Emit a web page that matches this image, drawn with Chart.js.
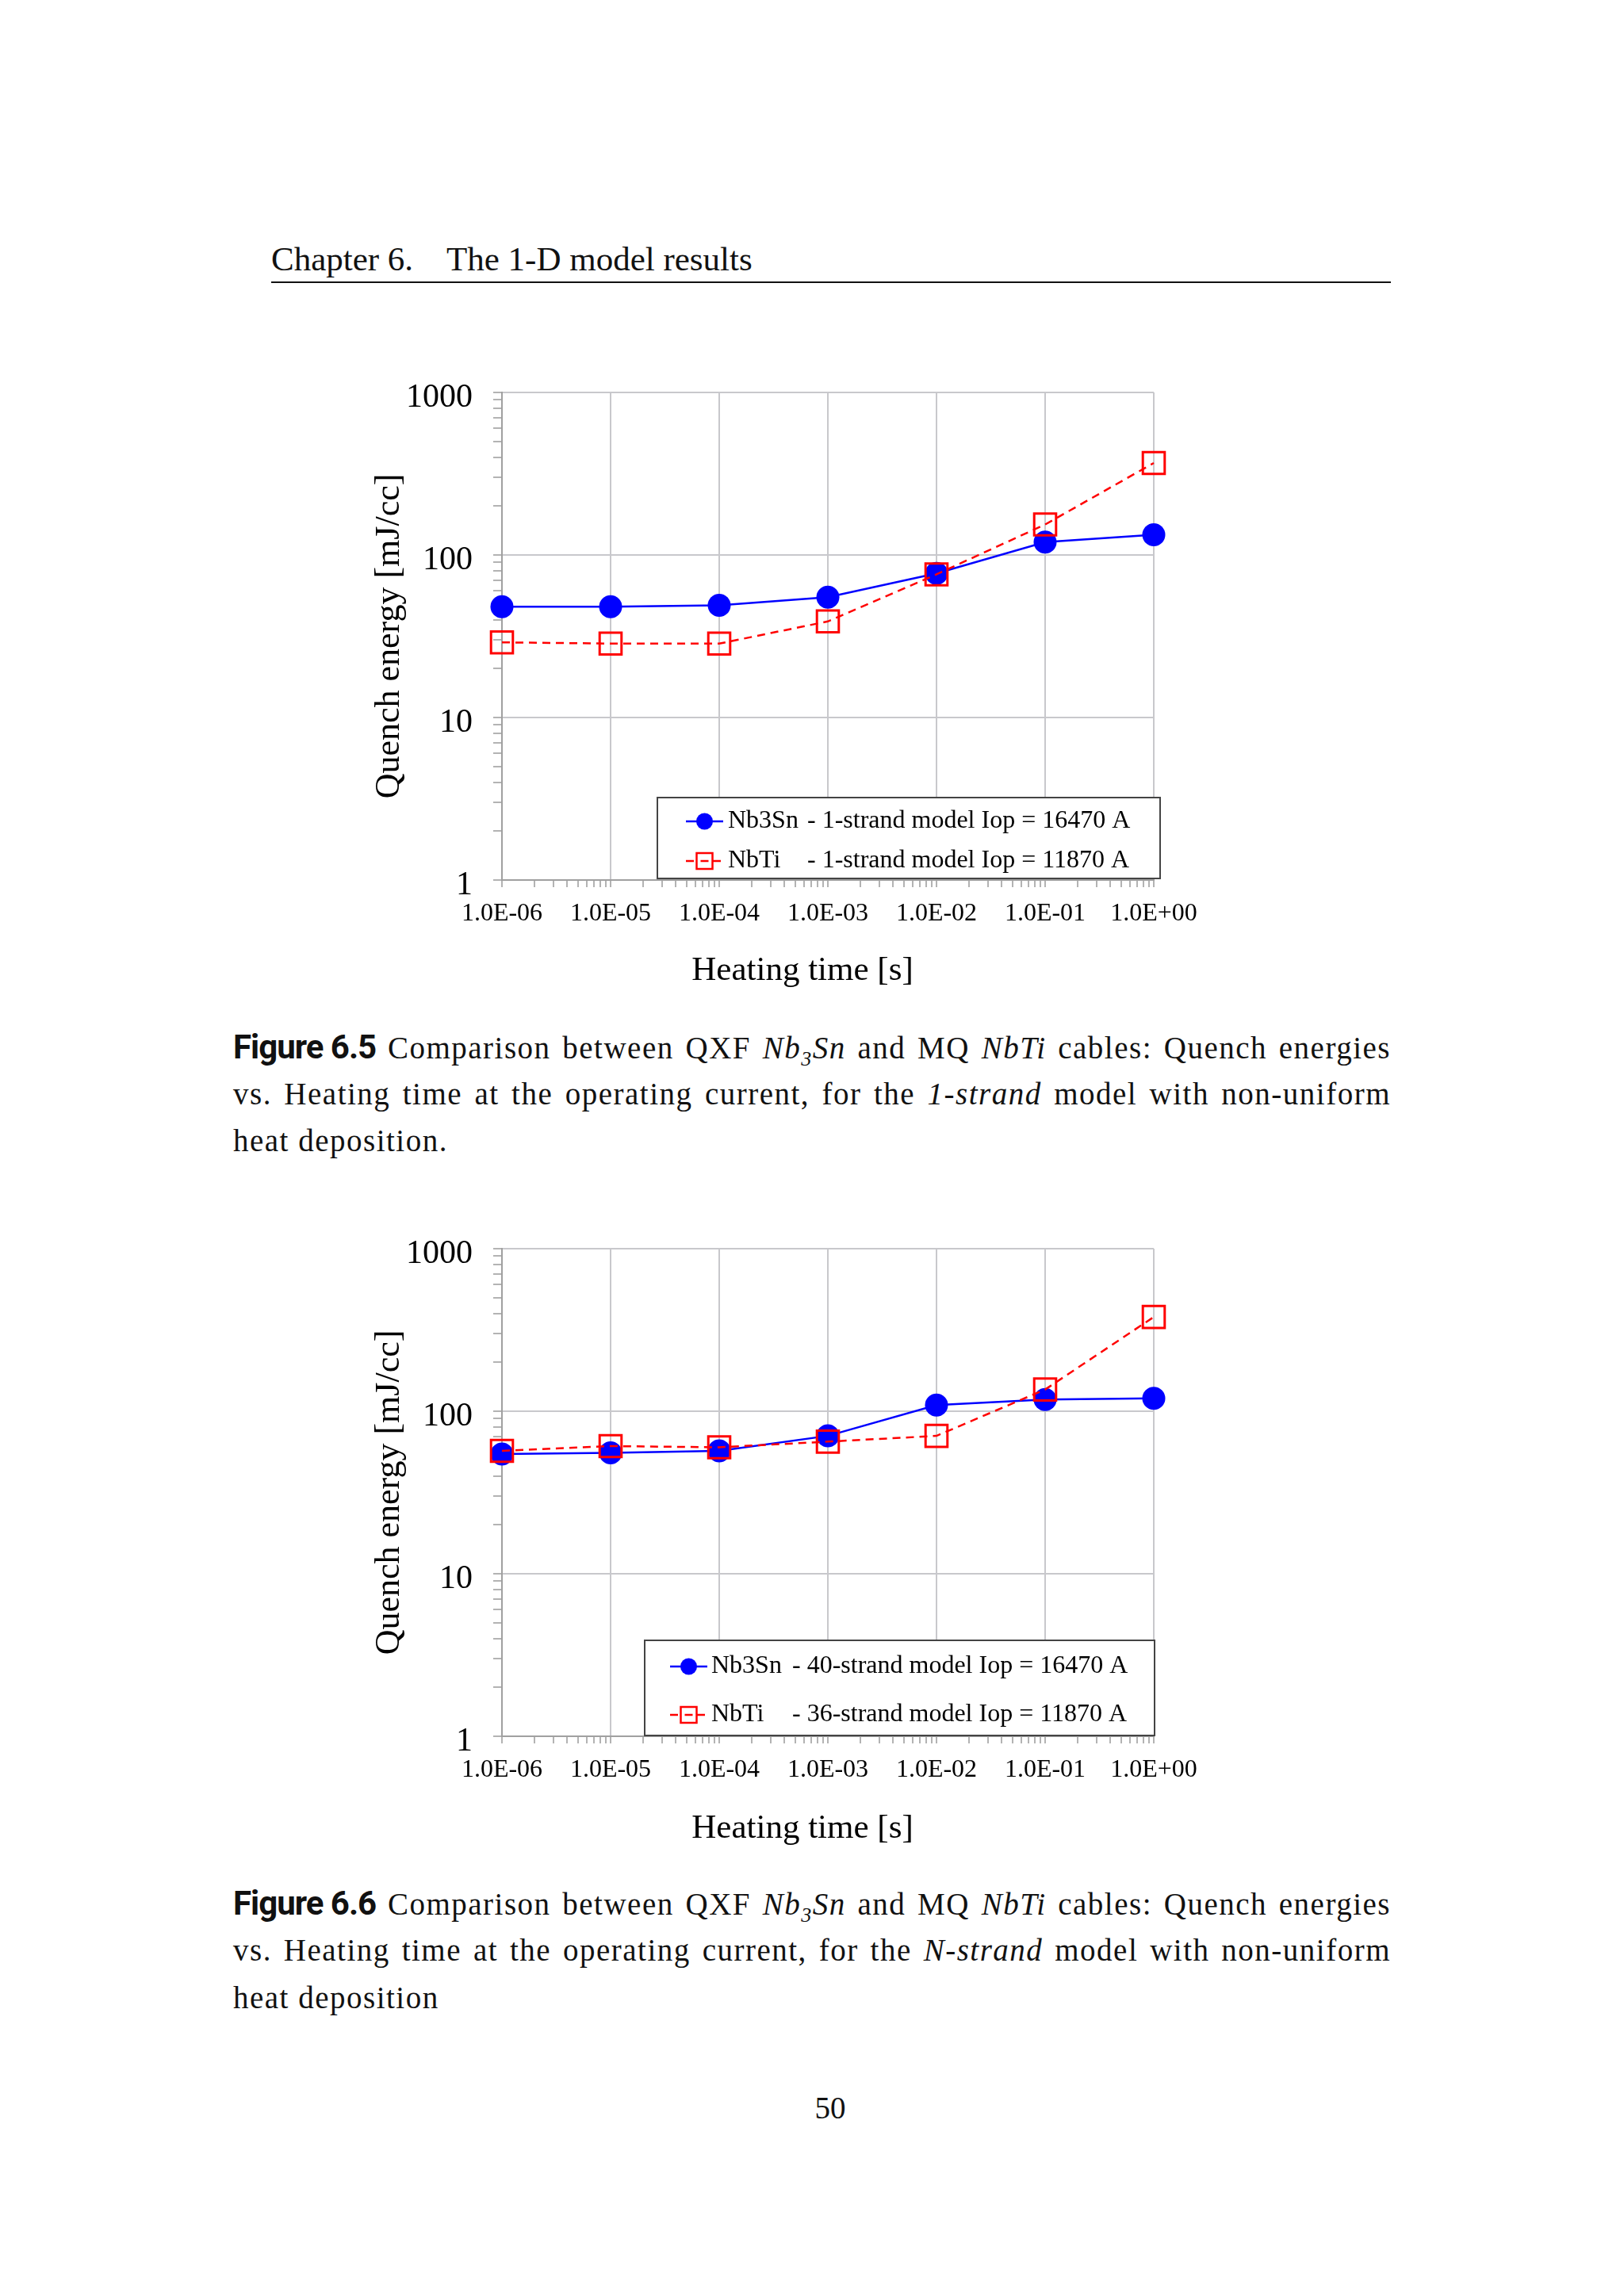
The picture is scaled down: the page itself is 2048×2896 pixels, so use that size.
<!DOCTYPE html>
<html>
<head>
<meta charset="utf-8">
<script src="https://cdn.jsdelivr.net/npm/chart.js@4/dist/chart.umd.min.js"></script>
<style>
html,body{margin:0;padding:0;background:#fff;}
body{width:2048px;height:2896px;position:relative;overflow:hidden;font-family:'Liberation Serif',serif;color:#111;}
.abs{position:absolute;white-space:nowrap;}
.hdr{font-size:43px;line-height:50px;}
.rule{position:absolute;left:342px;top:355px;width:1412px;height:2px;background:#111;}
.cap{position:absolute;left:294px;width:1460px;font-size:39px;line-height:48px;letter-spacing:1.5px;white-space:nowrap;}
.just{text-align:justify;text-align-last:justify;white-space:normal;}
.fig{display:inline-block;font-family:'Roboto',sans-serif;font-weight:bold;letter-spacing:-1px;font-size:42px;}
canvas{position:absolute;}
</style>
</head>
<body>
<div class="abs hdr" style="left:342px;top:302px;">Chapter 6.</div>
<div class="abs hdr" style="left:563px;top:302px;">The 1-D model results</div>
<div class="rule"></div>

<canvas id="chart1" width="1110" height="840" style="left:420px;top:440px;width:1110px;height:840px;"></canvas>

<div class="cap just" style="top:1297px;"><span class="fig">Figure 6.5</span> Comparison between QXF <i>Nb<sub style="font-size:26px;line-height:0;">3</sub>Sn</i> and MQ <i>NbTi</i> cables: Quench energies</div>
<div class="cap just" style="top:1356px;">vs. Heating time at the operating current, for the <i>1-strand</i> model with non-uniform</div>
<div class="cap" style="top:1415px;">heat deposition.</div>

<canvas id="chart2" width="1110" height="840" style="left:420px;top:1520px;width:1110px;height:840px;"></canvas>

<div class="cap just" style="top:2377px;"><span class="fig">Figure 6.6</span> Comparison between QXF <i>Nb<sub style="font-size:26px;line-height:0;">3</sub>Sn</i> and MQ <i>NbTi</i> cables: Quench energies</div>
<div class="cap just" style="top:2436px;">vs. Heating time at the operating current, for the <i>N-strand</i> model with non-uniform</div>
<div class="cap" style="top:2496px;">heat deposition</div>

<div class="abs" style="left:1007px;width:80px;text-align:center;top:2634px;font-size:39px;line-height:50px;">50</div>

<script>
// ---------- data ----------
const heatingTimes = [1e-6, 1e-5, 1e-4, 1e-3, 1e-2, 1e-1, 1];
const xTickLabels = ['1.0E-06', '1.0E-05', '1.0E-04', '1.0E-03', '1.0E-02', '1.0E-01', '1.0E+00'];
const yDecades = [1, 10, 100, 1000];
const yTickLabels = ['1', '10', '100', '1000'];
const minorMultipliers = [1, 2, 3, 4, 5, 6, 7, 8, 9];

const fig1Nb3Sn = [48, 48, 49, 55, 77, 120, 133];
const fig1NbTi = [29, 28.5, 28.5, 39, 76, 154, 368];
const fig2Nb3Sn = [54.5, 55.5, 57, 70.5, 109, 118, 120];
const fig2NbTi = [57, 61, 60, 65, 70.5, 136, 380];

const seriesNames = ['Nb3Sn', 'NbTi'];
const fig1Details = ['- 1-strand model Iop = 16470 A', '- 1-strand model Iop = 11870 A'];
const fig2Details = ['- 40-strand model Iop = 16470 A', '- 36-strand model Iop = 11870 A'];
const yTitle = 'Quench energy [mJ/cc]';
const xTitle = 'Heating time [s]';

// ---------- helpers ----------
const FONT = 'Liberation Serif';
function isDecade(v) {
  const l = Math.log10(v);
  return Math.abs(l - Math.round(l)) < 1e-9;
}
function tickValues(decades) {
  const out = [];
  for (let i = 0; i < decades.length - 1; i++) {
    minorMultipliers.forEach(m => out.push(decades[i] * m));
  }
  out.push(decades[decades.length - 1]);
  return out;
}
const xTicks = tickValues(heatingTimes);
const yTicks = tickValues(yDecades);

const boxLegend = {
  id: 'boxLegend',
  afterDatasetsDraw(chart, args, o) {
    const ctx = chart.ctx;
    ctx.save();
    ctx.fillStyle = '#fff';
    ctx.fillRect(o.x, o.y, o.w, o.h);
    ctx.strokeStyle = '#444';
    ctx.lineWidth = 2;
    ctx.strokeRect(o.x, o.y, o.w, o.h);
    chart.data.datasets.forEach((ds, i) => {
      const y = o.rowY[i];
      ctx.strokeStyle = ds.borderColor;
      ctx.lineWidth = ds.borderWidth;
      ctx.setLineDash(ds.borderDash || []);
      ctx.beginPath();
      ctx.moveTo(o.lineX0, y);
      ctx.lineTo(o.lineX1, y);
      ctx.stroke();
      ctx.setLineDash([]);
      const mx = (o.lineX0 + o.lineX1) / 2;
      if (ds.pointStyle === 'circle') {
        ctx.fillStyle = ds.pointBackgroundColor;
        ctx.beginPath();
        ctx.arc(mx, y, 10.5, 0, Math.PI * 2);
        ctx.fill();
      } else {
        ctx.fillStyle = '#fff';
        ctx.fillRect(mx - 10, y - 10, 20, 20);
        ctx.strokeStyle = ds.pointBorderColor;
        ctx.lineWidth = 2.5;
        ctx.strokeRect(mx - 10, y - 10, 20, 20);
        ctx.strokeStyle = ds.borderColor;
        ctx.lineWidth = ds.borderWidth;
        ctx.beginPath();
        ctx.moveTo(mx - 5, y); ctx.lineTo(mx + 5, y);
        ctx.stroke();
      }
      ctx.fillStyle = '#000';
      ctx.font = '32px "' + FONT + '"';
      ctx.textBaseline = 'middle';
      ctx.textAlign = 'left';
      ctx.fillText(ds.legendName, o.textX, y);
      ctx.fillText(ds.legendDetail, o.detailX, y);
    });
    ctx.restore();
  }
};

const xTitlePlugin = {
  id: 'xTitleText',
  afterDraw(chart, args, o) {
    const ctx = chart.ctx;
    ctx.save();
    ctx.fillStyle = '#000';
    ctx.font = '43px "' + FONT + '"';
    ctx.textAlign = 'center';
    ctx.textBaseline = 'middle';
    ctx.fillText(o.text, o.x, o.y);
    ctx.restore();
  }
};

function makeChart(id, nb3sn, nbti, details, legendPos, xTitlePos) {
  const pts = vals => heatingTimes.map((t, i) => ({x: t, y: vals[i]}));
  return new Chart(document.getElementById(id), {
    type: 'line',
    data: {
      datasets: [
        {
          label: seriesNames[0] + ' ' + details[0],
          legendName: seriesNames[0], legendDetail: details[0],
          data: pts(nb3sn),
          borderColor: '#0000ff', backgroundColor: '#0000ff',
          borderWidth: 2.5,
          pointStyle: 'circle', pointRadius: 14.5, pointHoverRadius: 14.5,
          pointBackgroundColor: '#0000ff', pointBorderColor: '#0000ff', pointBorderWidth: 0,
          tension: 0, clip: false, order: 2
        },
        {
          label: seriesNames[1] + ' ' + details[1],
          legendName: seriesNames[1], legendDetail: details[1],
          data: pts(nbti),
          borderColor: '#ff0000', backgroundColor: 'rgba(0,0,0,0)',
          borderWidth: 2.5, borderDash: [10, 7],
          pointStyle: 'rect', pointRadius: 19.5, pointHoverRadius: 19.5,
          pointBackgroundColor: 'rgba(0,0,0,0)', pointBorderColor: '#ff0000', pointBorderWidth: 3,
          tension: 0, clip: false, order: 1
        }
      ]
    },
    options: {
      responsive: false,
      animation: false,
      devicePixelRatio: 1,
      layout: {padding: {top: 55, right: 75, left: 0, bottom: 0}},
      plugins: {
        legend: {display: false},
        tooltip: {enabled: false},
        boxLegend: legendPos,
        xTitleText: xTitlePos
      },
      scales: {
        x: {
          type: 'logarithmic',
          min: heatingTimes[0], max: heatingTimes[heatingTimes.length - 1],
          afterBuildTicks: s => { s.ticks = xTicks.map(v => ({value: v})); },
          afterFit: s => { s.height = 170; },
          ticks: {
            autoSkip: false, maxRotation: 0, minRotation: 0, padding: 14,
            color: '#000', font: {family: FONT, size: 32},
            callback: v => isDecade(v) ? xTickLabels[Math.round(Math.log10(v)) + 6] : ''
          },
          grid: {
            color: c => (c.tick && isDecade(c.tick.value)) ? '#c8c8cc' : 'rgba(0,0,0,0)',
            lineWidth: 2, tickColor: '#9a9a9a', tickWidth: 1.5, tickLength: 9
          },
          border: {display: true, color: '#a0a0a0', width: 2}
        },
        y: {
          type: 'logarithmic',
          min: yDecades[0], max: yDecades[yDecades.length - 1],
          afterBuildTicks: s => { s.ticks = yTicks.map(v => ({value: v})); },
          afterFit: s => { s.width = 213; },
          ticks: {
            autoSkip: false, padding: 26, labelOffset: 7,
            color: '#000', font: {family: FONT, size: 42},
            callback: v => isDecade(v) ? yTickLabels[Math.round(Math.log10(v))] : ''
          },
          grid: {
            color: c => (c.tick && isDecade(c.tick.value)) ? '#c8c8cc' : 'rgba(0,0,0,0)',
            lineWidth: 2, tickColor: '#9a9a9a', tickWidth: 1.5, tickLength: 11
          },
          border: {display: true, color: '#a0a0a0', width: 2},
          title: {
            display: true, text: yTitle, color: '#000',
            font: {family: FONT, size: 44}, padding: {top: 45, bottom: 0}
          }
        }
      }
    },
    plugins: [boxLegend, xTitlePlugin]
  });
}

makeChart('chart1', fig1Nb3Sn, fig1NbTi, fig1Details,
  {x: 409, y: 566, w: 634, h: 102, rowY: [596, 646], lineX0: 445, lineX1: 492, textX: 498, detailX: 598},
  {text: xTitle, x: 592, y: 785});
makeChart('chart2', fig2Nb3Sn, fig2NbTi, fig2Details,
  {x: 393, y: 549, w: 643, h: 120, rowY: [582, 643], lineX0: 425, lineX1: 472, textX: 477, detailX: 579},
  {text: xTitle, x: 592, y: 787});
</script>
</body>
</html>
